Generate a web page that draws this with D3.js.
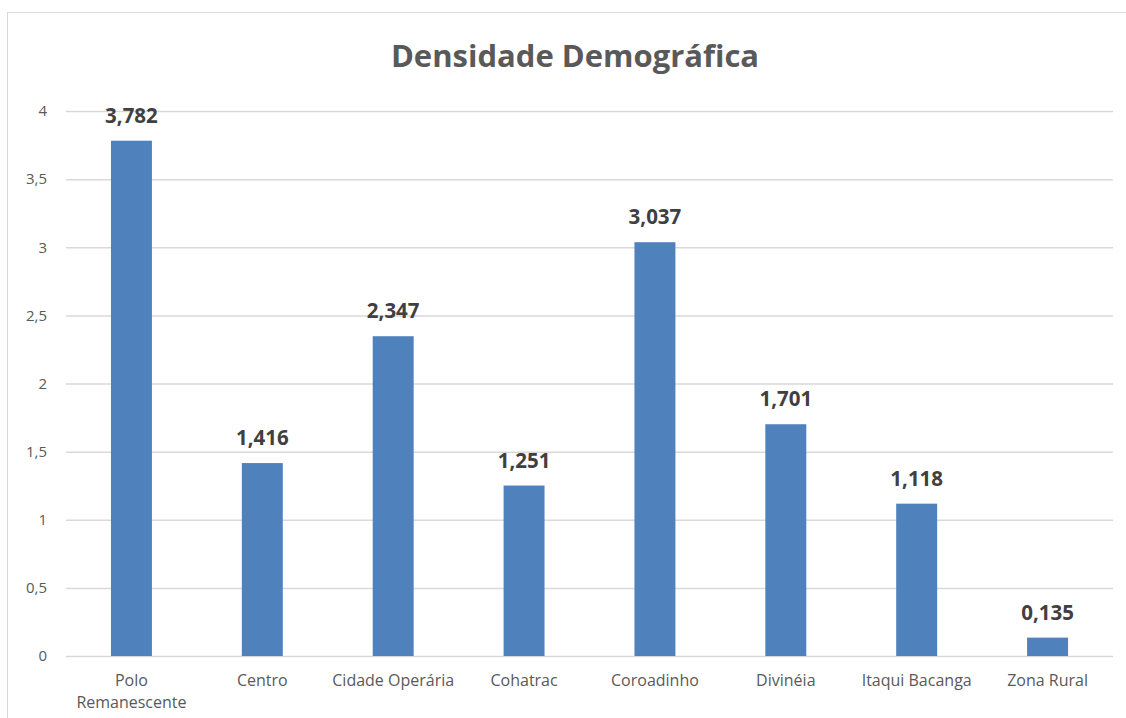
<!DOCTYPE html>
<html><head><meta charset="utf-8">
<script src="https://cdn.jsdelivr.net/npm/d3@7"></script>
<style>body{margin:0;background:#fff}svg{display:block}</style>
</head><body>
<script>
const categories = ["Polo Remanescente","Centro","Cidade Operária","Cohatrac","Coroadinho","Divinéia","Itaqui Bacanga","Zona Rural"];
const values = [3.782,1.416,2.347,1.251,3.037,1.701,1.118,0.135];
const yTicks = [0,0.5,1,1.5,2,2.5,3,3.5,4];
const title = "Densidade Demográfica";

const W=1126,H=718;
const font = "'Open Sans','Noto Sans',sans-serif";
const svg = d3.select("body").append("svg").attr("width",W).attr("height",H);
svg.append("rect").attr("x",7.5).attr("y",12.5).attr("width",1130).attr("height",720)
  .attr("fill","#fff").attr("stroke","#d9d9d9").attr("stroke-width",1);

const x = d3.scaleBand().domain(categories).range([66,1113]).paddingInner(0.687).paddingOuter(0.3435);
const y = d3.scaleLinear().domain([0,4]).range([656,111]);
const fmt = v => String(v).replace(".",",");

svg.append("text").attr("x",575).attr("y",67).attr("text-anchor","middle")
  .attr("font-family",font).attr("font-weight","bold").attr("font-size",31).attr("fill","#595959").text(title);

const yAxis = svg.append("g").attr("transform","translate(66,0)")
  .call(d3.axisLeft(y).tickValues(yTicks).tickSize(-1047).tickFormat(fmt));
yAxis.select(".domain").remove();
yAxis.selectAll(".tick line").attr("stroke","#d9d9d9").attr("stroke-width",1.5);
yAxis.selectAll(".tick text").attr("x",-19).attr("font-family",font).attr("font-size",15).attr("fill","#595959");

svg.selectAll("rect.bar").data(values).join("rect").attr("class","bar")
  .attr("x",(d,i)=>x(categories[i])).attr("width",x.bandwidth())
  .attr("y",d=>y(d)).attr("height",d=>y(0)-y(d)).attr("fill","#4f81bd");

svg.selectAll("text.lbl").data(values).join("text").attr("class","lbl")
  .attr("x",(d,i)=>x(categories[i])+x.bandwidth()/2).attr("y",d=>y(d)-18)
  .attr("text-anchor","middle").attr("font-family",font).attr("font-weight","bold")
  .attr("font-size",20.5).attr("fill","#404040").text(fmt);

const xAxis = svg.append("g").attr("transform","translate(0,656)")
  .call(d3.axisBottom(x).tickSize(0).tickFormat(""));
xAxis.select(".domain").remove();
const catLines = {"Polo Remanescente":["Polo","Remanescente"]};
xAxis.selectAll(".tick").each(function(c){
  const lines = catLines[c] || [c];
  const t = d3.select(this).append("text").attr("fill","#595959").attr("font-family",font)
    .attr("font-size",16).attr("text-anchor","middle");
  lines.forEach((l,k)=>t.append("tspan").attr("x",0).attr("y",30+k*22).text(l));
});
</script>
</body></html>
